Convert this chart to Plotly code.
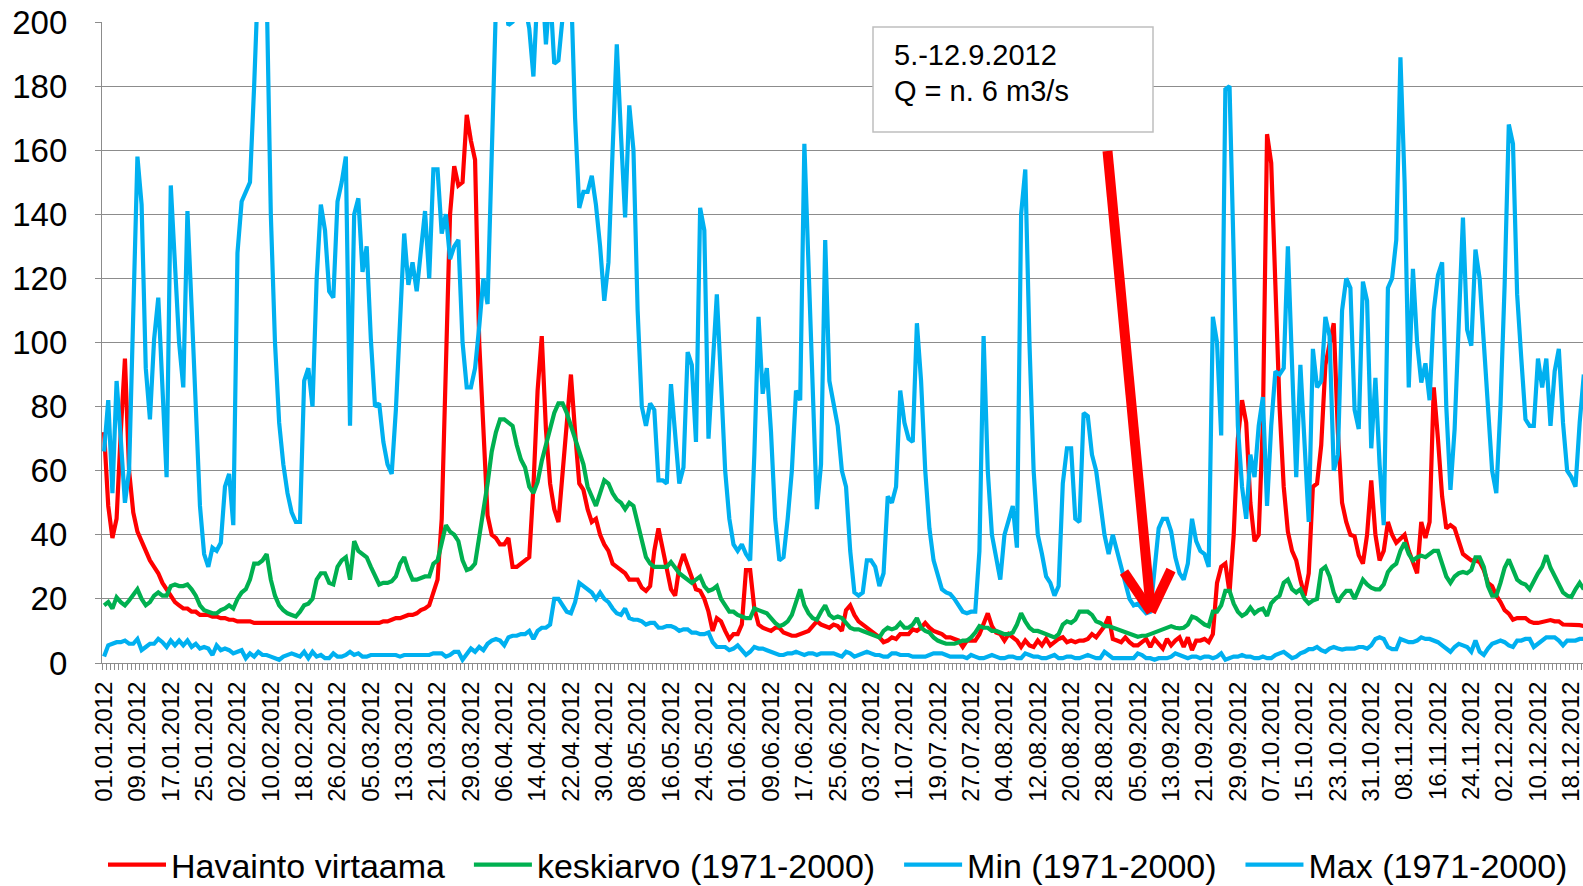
import pandas as pd
import plotly.graph_objects as go

# ---------------- data (daily values, from 01.01.2012) ----------------
start_date = "2012-01-01"

havainto = [
    72, 49, 39, 45, 72, 95, 60, 47, 41, 38, 35, 32, 30, 28, 25, 23, 21, 19, 18, 17, 17, 16, 16, 15, 15, 15, 14.5, 14.5,
    14, 14, 13.5, 13.5, 13, 13, 13, 13, 12.5, 12.5, 12.5, 12.5, 12.5, 12.5, 12.5, 12.5, 12.5, 12.5, 12.5, 12.5, 12.5, 12.5, 12.5, 12.5, 12.5, 12.5, 12.5, 12.5, 12.5, 12.5,
    12.5, 12.5, 12.5, 12.5, 12.5, 12.5, 12.5, 12.5, 12.5, 13, 13, 13.5, 14, 14, 14.5, 15, 15, 15.5, 16.5, 17, 18, 22, 26, 45, 95, 140, 155, 149, 150, 171,
    163, 157, 100, 70, 46, 40, 39, 37, 37, 39, 30, 30, 31, 32, 33, 55, 85, 102, 73, 56, 48, 44, 60, 78, 90, 72, 56, 54, 48,
    44, 45, 40, 37, 35, 31, 30, 29, 28, 26, 26, 26, 23.5, 22.5, 24, 35, 42, 36, 30, 23, 21, 30, 34, 30, 26, 23, 22.5, 20, 16,
    10, 14, 13, 10, 7.5, 9, 9, 12, 29, 29, 17, 12, 11, 10.5, 10, 11, 11, 9.5, 9, 8.5, 8.5, 9, 9.5, 10, 11.5, 13, 12, 11.5, 11, 12,
    11.5, 10, 16.5, 18, 15, 13, 12, 11, 10, 9, 8, 6.5, 7, 8, 7.5, 9, 9, 9, 10.5, 10, 11, 12.5, 11, 10, 9.5, 9, 8, 8, 7.5, 7,
    5, 7, 7, 7, 9, 12, 15.5, 11.5, 9.5, 9, 7, 9, 8, 7, 5, 7, 5.5, 5, 7, 5.5, 7.5, 5.5, 6.5, 7.5, 8, 6.5, 7, 6.5, 7, 7,
    7.5, 9, 8, 9.5, 11.5, 14.5, 7.5, 7, 6.5, 8, 6.5, 5.5, 5.5, 6.5, 7.5, 5, 7.5, 6, 4.5, 7.5, 5.5, 7, 8, 5, 8, 4, 7, 7, 7.5,
    6.5, 9, 25, 30, 31, 22, 40, 70, 82, 75, 50, 38, 40, 75, 165, 156, 118, 80, 55, 41, 35, 32, 26, 21, 28, 55, 56, 68, 93, 100,
    106, 72, 50, 44, 40, 39.5, 33.6, 31, 40, 57, 40, 32, 35, 44, 40, 37.5, 39, 40, 35, 31, 28, 44, 39, 44, 86, 70, 52, 42, 43,
    42, 38, 34, 33, 32, 32, 31.5, 29, 25, 24, 21, 19, 16.5, 15.4, 13.5, 14, 14, 14, 13, 12.5, 12.5, 12.8, 13, 13.4, 13, 13, 12, 12, 12, 12, 11.8, 11.5,
]

keskiarvo = [
    18, 19, 17, 20.5, 19, 18, 19.5, 21, 23, 20, 18, 19, 21, 22, 21, 21, 24, 24.5, 24, 24, 24.5, 23, 21, 18, 16.5, 16, 15.5, 15.5,
    16.5, 17, 18, 17, 20, 22, 23, 26, 31, 31, 32, 34, 26, 21, 18, 16.5, 15.5, 15, 14.5, 16, 18, 18.5, 20, 26, 28, 28, 25, 24.5, 30, 32,
    33, 26, 38, 35, 34, 33, 30, 27, 24.5, 25, 25, 25.5, 27, 31, 33, 29, 26, 26, 26.5, 27, 27, 31, 32, 37, 43, 41, 40, 38, 32, 29,
    29.5, 31, 39, 46, 56, 66, 72, 76, 76, 75, 74, 68, 63.5, 61, 55, 53, 56.5, 63, 68, 72, 78, 81, 81, 78, 74, 70, 66, 62, 55,
    52, 49, 53, 57, 56, 53, 51, 50, 48, 50, 49, 44, 38, 33, 31, 30, 30, 30, 30, 31.5, 29.5, 28, 27, 26, 25, 26, 27, 24, 22.5,
    23, 24, 20, 18, 16, 16, 15, 14.5, 14, 14, 17, 16.5, 16, 15.5, 14, 12.5, 11.5, 12, 13, 15, 19, 23, 18, 15.5, 14, 13.5, 16, 18, 15, 14,
    14.5, 14, 12.5, 11, 10.5, 10.5, 10, 9.5, 9, 8.5, 8, 10, 11, 10.5, 11, 12.5, 11, 11, 12, 14, 11, 10, 9.5, 8, 7, 6.5, 6, 6, 6, 6.5,
    7, 7, 8, 9.5, 11.5, 11, 11, 10, 10, 9.5, 9, 9, 9.5, 12, 15.5, 13, 11, 10, 10, 9.5, 9, 8.5, 8, 9, 12, 13, 12.5, 13.5, 16, 16,
    16, 15, 13, 12.5, 11.5, 11.5, 11, 10.5, 10, 9.5, 9, 8.5, 8.2, 8.5, 8.5, 9, 9.5, 10, 10.5, 11, 11.5, 11, 10.8, 11, 12, 14.5, 14, 13, 12,
    11.5, 16, 16, 18, 22.5, 22.5, 18.5, 16, 14.7, 15.5, 17.3, 15.5, 16.5, 17, 14.7, 18.6, 20, 21, 25, 26, 23, 22, 23, 20, 18.6, 19.5, 20, 29, 30, 27,
    22, 19, 21, 22.5, 22.5, 20, 23, 26, 24.5, 23.5, 23, 23, 24.5, 28.4, 30, 31, 35, 37.5, 34, 32, 33, 33.5, 33, 34, 35, 35, 31, 27, 25,
    27, 28, 28.4, 28, 29, 33, 33, 30, 24, 21, 21, 25, 29.7, 32.3, 29, 26, 25, 24.5, 23, 25.8, 28, 30, 33.6, 29.7, 27, 25, 22, 21, 20.6, 23, 25, 23,
]

min_1971_2000 = [
    2, 5.5, 6, 6.5, 6.5, 7, 6, 6, 7.5, 4, 5, 6, 6, 7.5, 6.5, 5, 7, 5.5, 7, 5.5, 7, 5, 6, 4.5, 5, 4.5, 2.5, 5.5,
    4, 4.5, 4, 3, 3.5, 4, 1.5, 3, 2, 3.5, 2.5, 2.5, 2, 1.5, 1, 2, 2.5, 3, 2.5, 2, 3.5, 1.5, 3.5, 2, 2.5, 1.5, 1.5, 3, 2, 2,
    2.5, 3.5, 2.5, 3, 2, 2, 2.5, 2.5, 2.5, 2.5, 2.5, 2.5, 2.5, 2, 2.5, 2.5, 2.5, 2.5, 2.5, 2.5, 2.5, 3, 3, 3, 2, 2.5, 3.5, 3.5, 1, 3,
    4.5, 3.5, 5, 4, 6, 7, 7.5, 7, 5.5, 8, 8.5, 8.5, 9, 9, 10, 7.5, 10, 11, 11, 12, 20, 20, 18, 16, 15.5, 19, 25, 24, 23,
    22, 20, 22, 20, 19, 17, 15.5, 15, 17, 14, 13.5, 13.5, 13, 12, 12.5, 12.5, 11, 11, 11.5, 11.5, 11, 10, 10.5, 10.5, 9.5, 9.5, 9, 9, 9.5,
    6.5, 5, 5, 5, 4, 4.5, 5.5, 4, 2.5, 3.5, 5, 4.5, 4.5, 4, 3.5, 3, 2.5, 2.5, 3, 3, 3.5, 3, 2.5, 3, 3, 2.5, 3, 3, 3, 3,
    2.5, 2, 3.5, 3, 2, 2.5, 3, 3.5, 3, 2.5, 2.5, 2, 2, 3, 3, 2.5, 2.5, 2.5, 2, 2, 2, 2, 2.5, 3, 3, 3, 2.5, 2, 2, 2,
    2, 1.5, 2.5, 2, 1.5, 1.5, 2, 2.5, 2, 1.5, 1.5, 2, 2, 1.5, 1.5, 3, 2.5, 2, 2, 1.5, 1.5, 2, 2.5, 1.5, 1.5, 2, 2, 1.5, 1.5, 2,
    2.5, 2, 1.5, 1.5, 3.5, 2.5, 1.5, 1.5, 1.5, 1.5, 1.5, 1.5, 3, 2.5, 1.5, 1.5, 1, 1.5, 1.5, 1.5, 2, 3, 2.5, 2, 1.5, 2, 2, 1.5, 2,
    2, 1.5, 2, 3, 1, 1.5, 2, 2, 2.5, 2, 2, 1.5, 1.5, 2, 1.5, 1.5, 2.5, 3, 3.5, 2.5, 1.5, 2, 3, 3.5, 4.3, 4.3, 5, 4, 3.5, 4.5,
    5, 4.5, 4.2, 4.5, 4.5, 4.5, 5, 5, 4.5, 5.5, 7.5, 8, 7.5, 5, 4.3, 4.3, 7.5, 7, 6.5, 6.5, 7, 8, 7.5, 7.5, 7, 6.5, 5.5, 4.5, 3.5,
    5, 6, 5.5, 5, 3.5, 7, 3.5, 2.5, 4.5, 6, 6.5, 7, 6.5, 5.5, 5, 7, 7, 7.5, 7.5, 5, 6, 7, 8, 8, 8, 7, 5.5, 7, 7, 7, 7.5, 7.5,
]

max_1971_2000 = [
    66, 82, 53, 88, 70, 50, 60, 112, 158, 143, 92, 76, 101, 114, 85, 58, 149, 125, 100, 86, 141, 111, 81, 49, 34, 30, 36, 35,
    37.5, 55, 59, 43, 128, 144, 147, 150, 180, 215, 220, 210, 140, 100, 75, 62, 53, 47, 44, 44, 88, 92, 80, 120, 143, 135, 116, 114, 144, 150,
    158, 74, 140, 145, 122, 130, 101, 80, 81, 69, 62, 59, 79, 110, 134, 118, 125, 116, 129, 141, 120, 154, 154, 134, 140, 126, 130, 132, 100, 86,
    86, 92, 105, 120, 112, 153, 205, 215, 210, 199, 200, 212, 215, 205, 198, 183, 210, 215, 193, 210, 187, 188, 205, 215, 212, 170, 142, 147, 147,
    152, 143, 130, 113, 125, 160, 193, 165, 139, 174, 160, 110, 80, 74, 81, 79, 57, 57, 56, 87, 70, 56, 61, 97, 93, 69, 142, 135, 70,
    90, 115, 88, 60, 45, 37, 35, 37, 34, 32, 65, 108, 84, 92, 72, 45, 32, 33, 45, 60, 85, 82, 162, 125, 85, 48, 62, 132, 88, 80,
    74, 60, 55, 35, 22, 21, 22, 32, 32, 30, 24, 28, 52, 50, 55, 85, 75, 70, 69, 106, 88, 60, 42, 32, 27, 23, 22, 21.5, 20, 18,
    16, 15.5, 16, 16, 35, 102, 60, 40, 32, 26, 40, 45, 49, 36, 140, 154, 100, 60, 40, 34, 27, 25, 21, 24, 56, 67, 67, 45, 44, 78,
    77, 65, 60, 50, 40, 34, 40, 35, 30, 26, 20, 18, 18.5, 17, 15.5, 16, 30, 42, 45, 45, 41, 33, 28, 26, 31, 45, 38, 35, 34,
    30, 108, 100, 71, 179, 180, 130, 74, 55, 45, 65, 58, 74, 83, 49, 74, 91, 90, 92, 130, 93, 58, 93, 70, 44, 98, 86, 88, 108, 102,
    60, 65, 110, 120, 117, 79, 73, 119, 113, 67, 89, 62, 43, 117, 120, 132, 189, 150, 86, 123, 100, 87.5, 93.5, 82, 110, 121, 125, 80, 54,
    73, 110, 139, 104, 99, 129, 120, 100, 79, 60, 53, 80, 118, 168, 162, 115, 95, 76, 74, 74, 95, 86, 95, 74, 91, 98, 75, 60, 58, 55, 75, 90,
]

series_names = ["Havainto virtaama", "keskiarvo (1971-2000)", "Min (1971-2000)", "Max (1971-2000)"]
series_colors = ["#FF0000", "#00B050", "#00B0F0", "#00B0F0"]

note_lines = ["5.-12.9.2012", "Q = n. 6 m3/s"]

n_days = len(havainto)
dates = pd.date_range(start_date, periods=n_days, freq="D")
tick_dates = list(dates[::8])
tick_labels = [d.strftime("%d.%m.%Y") for d in tick_dates]

# ---------------- figure ----------------
W, H = 1583, 886
L, R, T, B = 102, 0, 22, 223
PW, PH = W - L - R, H - T - B


def px(xp):
    return (xp - L) / PW


def py(yp):
    return (H - B - yp) / PH


FONT = "Arial, Liberation Sans, sans-serif"
GRID = "#8C8C8C"
NB = "\u00a0"

fig = go.Figure()
all_series = [havainto, keskiarvo, min_1971_2000, max_1971_2000]
for i, (name, vals, col) in enumerate(zip(series_names, all_series, series_colors)):
    # trailing non-breaking spaces only widen the gap between legend entries
    label = name + (NB * 2 if i < len(series_names) - 1 else "")
    fig.add_trace(go.Scatter(x=dates, y=vals, mode="lines", name=label,
                             line=dict(color=col, width=4.2)))

x_start = dates[0] - pd.Timedelta(hours=12)
x_end = dates[0] + pd.Timedelta(days=354.8)

fig.update_layout(
    width=W, height=H,
    margin=dict(l=L, r=R, t=T, b=B, pad=0, autoexpand=False),
    paper_bgcolor="white", plot_bgcolor="white",
    font=dict(family=FONT, color="black"),
    showlegend=True,
    legend=dict(orientation="h", x=px(103), xanchor="left", y=py(865), yanchor="middle",
                font=dict(size=34, family=FONT, color="black"),
                itemwidth=58, bgcolor="rgba(0,0,0,0)", tracegroupgap=0),
    xaxis=dict(
        type="date", range=[x_start, x_end], automargin=False,
        tickmode="array", tickvals=tick_dates, ticktext=tick_labels,
        tickangle=-90, tickfont=dict(size=24, family=FONT, color="black"),
        ticklabeloverflow="allow",
        ticks="outside", ticklen=8, tickcolor="rgba(0,0,0,0)",
        showgrid=False, zeroline=False,
        showline=True, linecolor=GRID, linewidth=1.3,
        minor=dict(ticks="outside", ticklen=6, tickcolor=GRID, tickwidth=1,
                   tick0=x_start, dtick=86400000, showgrid=False),
    ),
    yaxis=dict(
        range=[0, 200], tickmode="linear", tick0=0, dtick=20, automargin=False,
        tickfont=dict(size=33, family=FONT, color="black"),
        ticks="outside", ticklen=6, tickcolor=GRID, tickwidth=1.3,
        ticklabelstandoff=21,
        showgrid=True, gridcolor=GRID, gridwidth=1,
        zeroline=False, showline=True, linecolor=GRID, linewidth=1.3,
    ),
)

# note box
fig.add_shape(type="rect", xref="paper", yref="paper",
              x0=px(873), x1=px(1153), y0=py(132), y1=py(27),
              line=dict(color="#BFBFBF", width=1.5), fillcolor="white", layer="above")
for txt, yy in zip(note_lines, [55.5, 91]):
    fig.add_annotation(xref="paper", yref="paper", x=px(892), y=py(yy),
                       xanchor="left", yanchor="middle", text=txt, showarrow=False,
                       font=dict(size=29, family=FONT, color="black"))

# red arrow pointing at the low-flow period
ARW = dict(color="#FF0000", width=10)
tip = (1151, 612)
fig.add_shape(type="line", xref="paper", yref="paper",
              x0=px(1107.5), y0=py(151), x1=px(tip[0]), y1=py(tip[1]), line=ARW, layer="above")
fig.add_shape(type="line", xref="paper", yref="paper",
              x0=px(1124), y0=py(572), x1=px(tip[0]), y1=py(tip[1]), line=ARW, layer="above")
fig.add_shape(type="line", xref="paper", yref="paper",
              x0=px(1171), y0=py(570), x1=px(tip[0]), y1=py(tip[1]), line=ARW, layer="above")

# remove the default page margin so the 1583x886 figure fills the window exactly
fig.write_html("out.html", config={"displayModeBar": False},
               post_script="document.body.style.margin='0';document.body.style.overflow='hidden';")
